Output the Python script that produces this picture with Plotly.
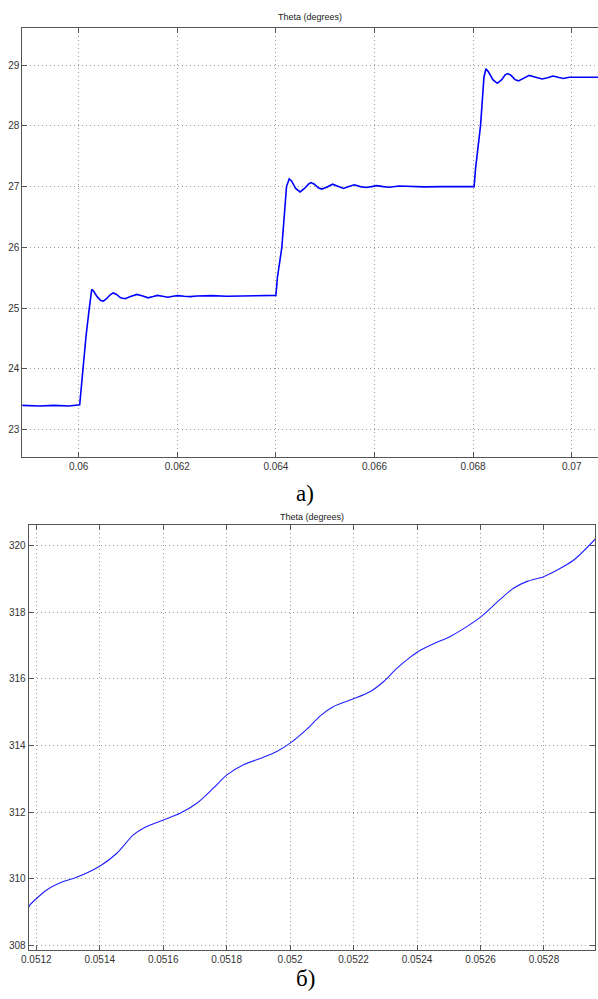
import plotly.graph_objects as go

# ---- panel a) : Theta (degrees) vs time ----
time_a = [0.05885, 0.0592, 0.0595, 0.0598, 0.06002, 0.06004, 0.06008, 0.06015, 0.060215, 0.06024, 0.060264,
          0.06030, 0.06038, 0.06045, 0.06050, 0.06056, 0.06064, 0.06070, 0.06076, 0.06085, 0.06094,
          0.06105, 0.06118, 0.06130, 0.06141, 0.06151, 0.06160, 0.06170, 0.06181, 0.06191, 0.06201,
          0.06214, 0.06226, 0.0624, 0.0627, 0.0630, 0.0634, 0.0638, 0.06400,
          0.06403, 0.06412, 0.064215, 0.06427, 0.06432, 0.06440, 0.06449, 0.06458, 0.06466, 0.06471,
          0.06478, 0.06486, 0.06493, 0.06503, 0.06515, 0.06526, 0.06537, 0.06548, 0.06559, 0.06571,
          0.06583, 0.06594, 0.06605, 0.06618, 0.0663, 0.0665, 0.0667, 0.0670, 0.0674, 0.0678, 0.06802,
          0.06805, 0.06815, 0.06822, 0.06826, 0.06831, 0.06840, 0.06849, 0.06858, 0.06865, 0.06870,
          0.06877, 0.06885, 0.06892, 0.06902, 0.06914, 0.06927, 0.06940, 0.06951, 0.06962, 0.06972,
          0.06983, 0.06995, 0.0701, 0.0702, 0.0704, 0.07054]
theta_a = [23.40, 23.39, 23.40, 23.39, 23.41, 23.6, 24.0, 24.55, 25.0, 25.2, 25.31,
           25.28, 25.18, 25.125, 25.115, 25.15, 25.22, 25.25, 25.23, 25.17, 25.155,
           25.19, 25.225, 25.20, 25.17, 25.19, 25.21, 25.195, 25.18, 25.195, 25.205,
           25.195, 25.19, 25.20, 25.205, 25.195, 25.20, 25.20, 25.21,
           25.5, 26.0, 27.0, 27.126, 27.09, 26.97, 26.913, 26.97, 27.04, 27.066,
           27.04, 26.98, 26.96, 26.99, 27.04, 27.0, 26.97, 27.0, 27.03, 27.0,
           26.985, 27.0, 27.015, 27.0, 26.99, 27.01, 27.0, 26.995, 27.0, 27.0, 27.0,
           27.3, 28.0, 28.8, 28.94, 28.89, 28.76, 28.70, 28.76, 28.84, 28.86,
           28.83, 28.76, 28.74, 28.78, 28.83, 28.80, 28.77, 28.79, 28.82, 28.80,
           28.78, 28.80, 28.80, 28.79, 28.80, 28.80]
ticks_x_a = [0.06, 0.062, 0.064, 0.066, 0.068, 0.07]
ticklabels_x_a = ["0.06", "0.062", "0.064", "0.066", "0.068", "0.07"]
ticks_y_a = [23, 24, 25, 26, 27, 28, 29]

# ---- panel б) ----
time_b = [0.051176, 0.051180, 0.051233, 0.051285, 0.051327, 0.051401, 0.051454, 0.051506, 0.051548,
          0.051601, 0.051653, 0.051706, 0.051758, 0.051801, 0.051853, 0.051916, 0.051958, 0.052000,
          0.052053, 0.052095, 0.052137, 0.052200, 0.052253, 0.052295, 0.052337, 0.052379, 0.052404,
          0.052452, 0.052505, 0.052558, 0.052603, 0.052663, 0.052705, 0.052747, 0.052799, 0.052842,
          0.052894, 0.052963]
theta_b = [309.15, 309.22, 309.67, 309.92, 310.05, 310.39, 310.77, 311.32, 311.57,
           311.77, 311.97, 312.27, 312.72, 313.12, 313.42, 313.65, 313.82, 314.07,
           314.49, 314.89, 315.17, 315.40, 315.62, 315.92, 316.32, 316.65, 316.82,
           317.05, 317.27, 317.57, 317.87, 318.39, 318.72, 318.92, 319.06, 319.26,
           319.56, 320.2]
ticks_x_b = [0.0512, 0.0514, 0.0516, 0.0518, 0.052, 0.0522, 0.0524, 0.0526, 0.0528]
ticklabels_x_b = ["0.0512", "0.0514", "0.0516", "0.0518", "0.052", "0.0522", "0.0524", "0.0526", "0.0528"]
ticks_y_b = [308, 310, 312, 314, 316, 318, 320]

W, H = 598, 999
tickfont = dict(family="Liberation Sans, Arial", size=10, color="#333333")
grid = dict(showgrid=True, gridcolor="#9a9a9a", gridwidth=1, griddash="1px,3px",
            zeroline=False, showline=True, linecolor="#555555", linewidth=1,
            ticks="inside", ticklen=5, tickcolor="#555555", tickfont=tickfont,
            automargin=False)

fig = go.Figure()
fig.add_trace(go.Scatter(x=time_a, y=theta_a, mode="lines",
                         line=dict(color="#0000ff", width=1.6), xaxis="x", yaxis="y",
                         showlegend=False))
fig.add_trace(go.Scatter(x=time_b, y=theta_b, mode="lines",
                         line=dict(color="#2020ff", width=1.1, shape="spline", smoothing=0.8),
                         xaxis="x2", yaxis="y2", showlegend=False))

fig.update_layout(
    width=W, height=H, margin=dict(l=0, r=0, t=0, b=0, pad=0, autoexpand=False),
    paper_bgcolor="white", plot_bgcolor="white",
    xaxis=dict(domain=[22.3 / W, 1.0], range=[0.058856, 0.070533], anchor="y",
               tickvals=ticks_x_a, ticktext=ticklabels_x_a, mirror="ticks", **grid),
    yaxis=dict(domain=[1 - 457 / H, 1 - 28 / H], range=[22.55, 29.61], anchor="x",
               tickvals=ticks_y_a, mirror=False, **grid),
    xaxis2=dict(domain=[28.7 / W, 595 / W], range=[0.0511761, 0.0529609], anchor="y2",
                tickvals=ticks_x_b, ticktext=ticklabels_x_b, mirror="ticks", **grid),
    yaxis2=dict(domain=[1 - 950 / H, 1 - 525 / H], range=[307.87, 320.61], anchor="x2",
                tickvals=ticks_y_b, mirror="ticks", **grid),
)

titlefont = dict(family="Liberation Sans, Arial", size=9, color="#222222")
capfont = dict(family="Liberation Serif, Times New Roman", size=23, color="#000000")
fig.add_annotation(text="Theta (degrees)", x=310 / W, y=1 - 17 / H, xref="paper", yref="paper",
                   showarrow=False, font=titlefont, xanchor="center", yanchor="middle")
fig.add_annotation(text="Theta (degrees)", x=312 / W, y=1 - 516.5 / H, xref="paper", yref="paper",
                   showarrow=False, font=titlefont, xanchor="center", yanchor="middle")
fig.add_annotation(text="а)", x=305 / W, y=1 - 494 / H, xref="paper", yref="paper",
                   showarrow=False, font=capfont, xanchor="center", yanchor="middle")
fig.add_annotation(text="б)", x=305 / W, y=1 - 978 / H, xref="paper", yref="paper",
                   showarrow=False, font=capfont, xanchor="center", yanchor="middle")

fig.write_html("out.html", config={"displayModeBar": False},
               post_script="document.body.style.margin='0';document.body.style.overflow='hidden';")
